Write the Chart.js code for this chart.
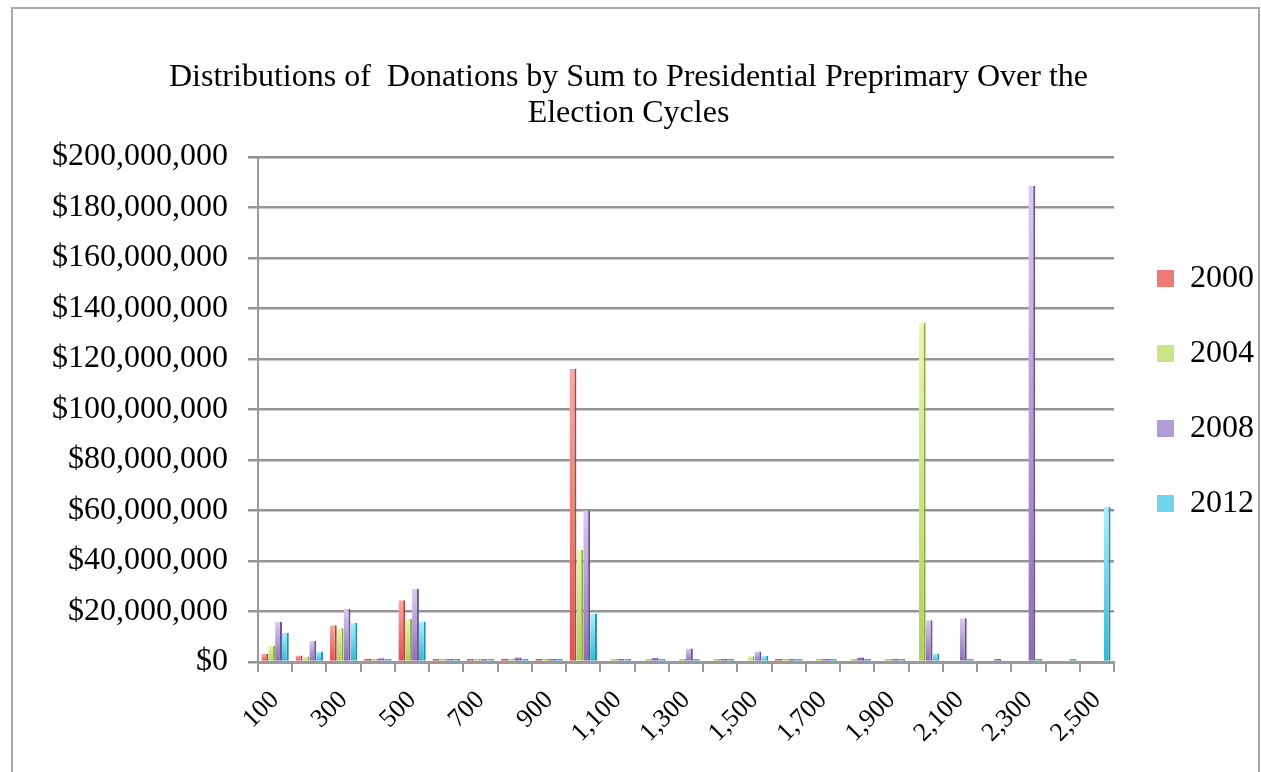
<!DOCTYPE html>
<html>
<head>
<meta charset="utf-8">
<script src="https://cdn.jsdelivr.net/npm/chart.js@4.4.0/dist/chart.umd.min.js"></script>
<style>
  html, body { margin: 0; padding: 0; background: #fff; overflow: hidden; }
  #frame { position: absolute; left: 11px; top: 7px; width: 1245px; height: 800px; border: 2px solid #a8a8a8; }
  #wrap { position: absolute; left: 0; top: 0; width: 1261px; height: 772px; }
</style>
</head>
<body>
<div id="frame"></div>
<div id="wrap"><canvas id="chart" width="1261" height="772"></canvas></div>
<script>
const categories = ['100', '200', '300', '400', '500', '600', '700', '800', '900', '1,000',
  '1,100', '1,200', '1,300', '1,400', '1,500', '1,600', '1,700', '1,800', '1,900', '2,000',
  '2,100', '2,200', '2,300', '2,400', '2,500'];

const years = ['2000', '2004', '2008', '2012'];

// donation totals per sum bucket
const sums2000 = [3200000, 2600000, 14600000, 400000, 24500000, 300000, 300000, 1300000, 300000, 116000000,
  null, null, null, null, null, 200000, null, null, null, null,
  null, null, null, null, null];
const sums2004 = [6300000, 2200000, 13400000, 700000, 17000000, 300000, 300000, 800000, 300000, 44500000,
  300000, 300000, 400000, 300000, 2300000, 200000, 300000, 500000, 500000, 134500000,
  null, null, null, null, null];
const sums2008 = [15800000, 8300000, 21000000, 1500000, 29000000, 500000, 800000, 1800000, 400000, 60000000,
  600000, 1600000, 5300000, 400000, 4200000, 400000, 800000, 1800000, 1300000, 16500000,
  17300000, 1000000, 188500000, null, null];
const sums2012 = [11600000, 4200000, 15500000, 900000, 16000000, 300000, 300000, 400000, 300000, 19000000,
  300000, 300000, 1000000, 300000, 2400000, 200000, 300000, 300000, 300000, 3400000,
  200000, null, 200000, 200000, 61500000];

const seriesValues = [sums2000, sums2004, sums2008, sums2012];

const yMax = 200000000;
const yStep = 20000000;

const topColors = ['#f7aaa6', '#e8f6b4', '#d8ccef', '#aaeffb'];
const baseColors = ['#df524c', '#afcf57', '#8c6cb7', '#34b6d4'];
const sideColors = ['#b2403b', '#8dab3d', '#6b5296', '#2691ac'];
const swatchColors = ['#ec7b76', '#cbe488', '#b29ed6', '#6fd5ea'];

const serif = "'Liberation Serif', 'Times New Roman', serif";

function barGradient(i) {
  return function (ctx) {
    const chart = ctx.chart;
    const area = chart.chartArea;
    if (!area || ctx.type !== 'data' || ctx.raw == null) return baseColors[i];
    const top = chart.scales.y.getPixelForValue(ctx.raw);
    if (area.bottom - top < 5) return baseColors[i];
    const g = chart.ctx.createLinearGradient(0, top, 0, area.bottom);
    g.addColorStop(0, topColors[i]);
    g.addColorStop(1, baseColors[i]);
    return g;
  };
}

const datasets = seriesValues.map((vals, i) => ({
  label: years[i],
  data: vals,
  backgroundColor: barGradient(i),
  borderColor: sideColors[i],
  borderWidth: { top: 0, right: 2, bottom: 0, left: 0 },
  minBarLength: 3,
  categoryPercentage: 0.8,
  barPercentage: 1.0
}));

const chart = new Chart(document.getElementById('chart').getContext('2d'), {
  type: 'bar',
  data: { labels: categories, datasets: datasets },
  options: {
    responsive: false,
    animation: false,
    devicePixelRatio: 1,
    layout: { padding: { left: 0, right: 4, top: 0, bottom: 0 } },
    scales: {
      x: {
        grid: { drawOnChartArea: false, drawTicks: true, tickLength: 10, color: '#9a9a9a', lineWidth: 2, offset: true },
        border: { display: true, color: '#9a9a9a', width: 3 },
        ticks: {
          autoSkip: false,
          maxRotation: 45,
          minRotation: 45,
          padding: 13,
          color: '#000',
          font: { family: serif, size: 26 },
          callback: function (value, index) {
            return index % 2 === 0 ? categories[index] : '';
          }
        },
        afterFit: function (scale) { scale.height = 110; }
      },
      y: {
        min: 0,
        max: yMax,
        grid: { color: '#959595', lineWidth: 2.5, tickLength: 10 },
        border: { display: true, color: '#9a9a9a', width: 2 },
        ticks: {
          stepSize: yStep,
          padding: 20,
          color: '#000',
          font: { family: serif, size: 32 },
          callback: v => '$' + v.toLocaleString('en-US')
        },
        afterFit: function (scale) { scale.width = 258; }
      }
    },
    plugins: {
      tooltip: { enabled: false },
      title: {
        display: true,
        text: ['Distributions of  Donations by Sum to Presidential Preprimary Over the', 'Election Cycles'],
        color: '#000',
        font: { family: serif, size: 32, weight: 'normal', lineHeight: 1.125 },
        padding: { top: 59.5, bottom: 25.5 }
      },
      legend: {
        position: 'right',
        align: 'start',
        fullSize: false,
        maxWidth: 143,
        title: { display: true, text: '', font: { size: 10, lineHeight: '62.5px' }, padding: 0 },
        labels: {
          color: '#000',
          font: { family: serif, size: 32 },
          boxWidth: 17,
          boxHeight: 17,
          padding: 43,
          generateLabels: function (chart) {
            return chart.data.datasets.map((ds, i) => ({
              text: ds.label,
              fillStyle: swatchColors[i],
              strokeStyle: swatchColors[i],
              fontColor: '#000',
              lineWidth: 0,
              hidden: false,
              datasetIndex: i
            }));
          }
        }
      }
    }
  }
});
</script>
</body>
</html>
